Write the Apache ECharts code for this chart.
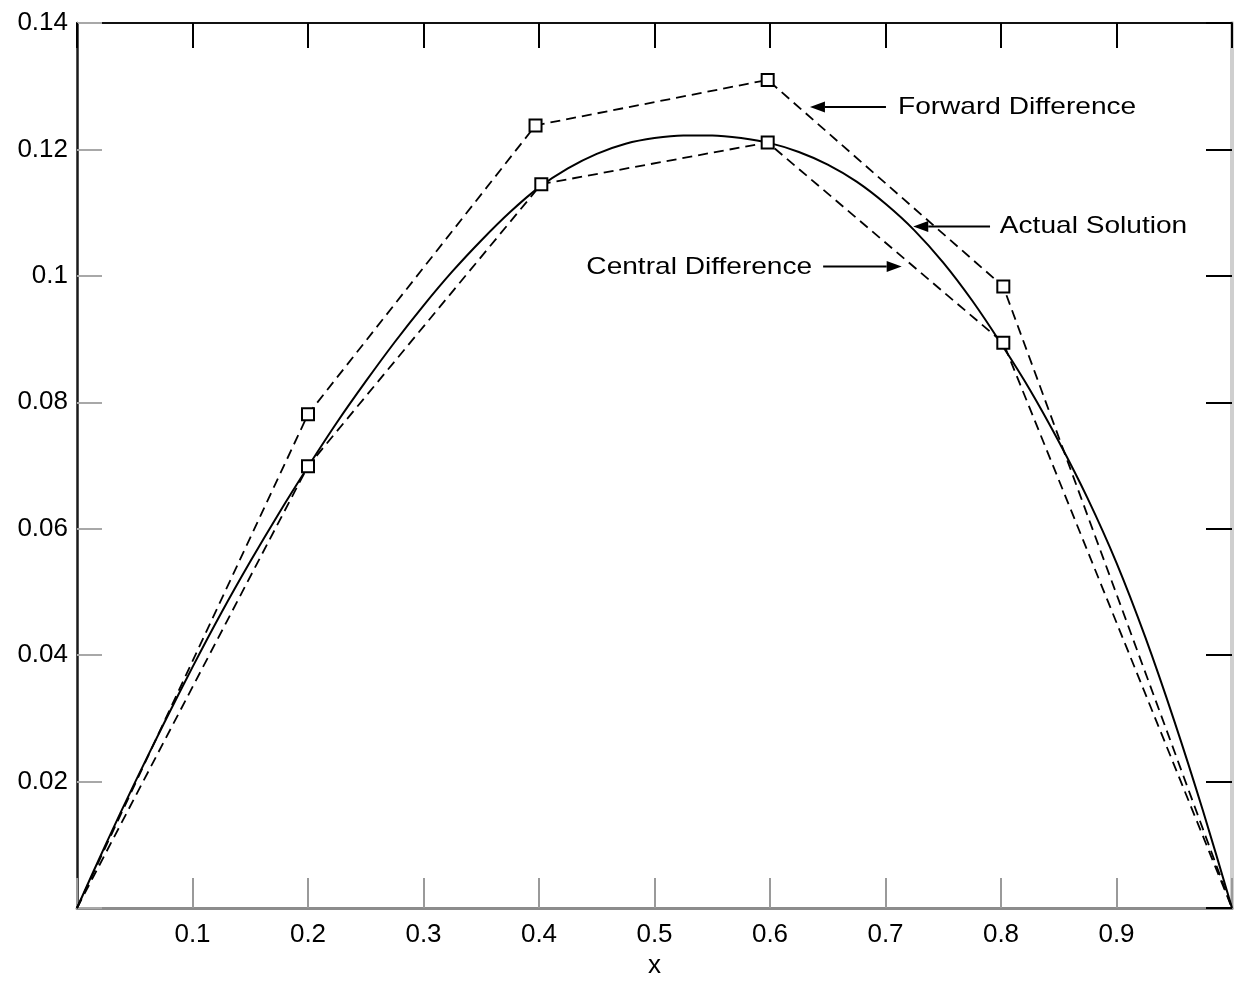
<!DOCTYPE html>
<html>
<head>
<meta charset="utf-8">
<script src="https://cdn.jsdelivr.net/npm/echarts@6.0.0/dist/echarts.min.js"></script>
<style>
html,body{margin:0;padding:0;background:#ffffff;overflow:hidden;}
#chart{width:1234px;height:981px;}
</style>
</head>
<body>
<div id="chart"></div>
<script>
// ---- data ----
const xTickLabels = ['0.1','0.2','0.3','0.4','0.5','0.6','0.7','0.8','0.9'];
const yTickLabels = ['0.02','0.04','0.06','0.08','0.1','0.12','0.14'];

const actualX = [0, 0.025, 0.05, 0.075, 0.10, 0.125, 0.15, 0.175, 0.20, 0.225, 0.25, 0.275, 0.30, 0.325, 0.35, 0.375, 0.40, 0.425, 0.45, 0.475, 0.50,
                 0.525, 0.55, 0.575, 0.60, 0.625, 0.65, 0.675, 0.70, 0.725, 0.75, 0.775, 0.80, 0.825, 0.85, 0.875, 0.90, 0.925, 0.95, 0.975, 1.0];
const actualY = [0, 0.0101, 0.0198, 0.0291, 0.0381, 0.0467, 0.0548, 0.0625, 0.0698, 0.0768, 0.0833, 0.0895, 0.0953, 0.1007, 0.1056, 0.1101, 0.1140, 0.1170, 0.1193, 0.1209, 0.1218,
                 0.1222, 0.1222, 0.1218, 0.1210, 0.1196, 0.1176, 0.1149, 0.1114, 0.1072, 0.1021, 0.0961, 0.0893, 0.0820, 0.0738, 0.0648, 0.0546, 0.0428, 0.0296, 0.0153, 0];

const forwardX = [0, 0.2, 0.397, 0.598, 0.802, 1.0];
const forwardY = [0, 0.0781, 0.1238, 0.1310, 0.0983, 0];

const centralX = [0, 0.2, 0.402, 0.598, 0.802, 1.0];
const centralY = [0, 0.0699, 0.1145, 0.1211, 0.0894, 0];

// annotation texts (positions in data coordinates)
const annoLabels = ['Forward Difference', 'Actual Solution', 'Central Difference'];
const annoTextPos = [[0.7108, 0.1266], [0.799, 0.1078], [0.441, 0.1014]];
const annoTail = [[0.7004, 0.1267], [0.7905, 0.1078], [0.646, 0.1015]];
const annoTip = [[0.6346, 0.1267], [0.724, 0.1078], [0.714, 0.1015]];

// ---- chart ----
const FONT = 'Liberation Sans, Arial, Helvetica, sans-serif';
const chart = echarts.init(document.getElementById('chart'), null, {renderer: 'canvas', width: 1234, height: 981});

function pts(xs, ys, markers) {
  return xs.map((x, i) => {
    const item = {value: [x, ys[i]]};
    if (markers && (i === 0 || i === xs.length - 1)) item.symbol = 'none';
    return item;
  });
}

const xFmt = v => {
  const k = Math.round(v * 10);
  return (k >= 1 && k <= 9) ? xTickLabels[k - 1] : '';
};
const yFmt = v => {
  const k = Math.round(v * 50);
  return (k >= 1 && k <= 7) ? yTickLabels[k - 1] : '';
};

const dashed = {color: '#000', width: 1.8, type: [10, 6]};
const squareStyle = {color: '#ffffff', borderColor: '#000', borderWidth: 2};

chart.setOption({
  animation: false,
  backgroundColor: '#ffffff',
  grid: {left: 77, right: 2, top: 23, bottom: 73, containLabel: false, outerBoundsMode: 'none'},
  xAxis: [
    {
      type: 'value', min: 0, max: 1, interval: 0.1, position: 'bottom',
      axisLine: {show: true, onZero: false, lineStyle: {color: '#8c8c8c', width: 3}},
      axisTick: {show: true, inside: true, length: 30, lineStyle: {color: '#9a9a9a', width: 2}},
      axisLabel: {formatter: xFmt, fontSize: 26, color: '#000', margin: 14, fontFamily: FONT},
      splitLine: {show: false},
      name: 'x', nameLocation: 'middle', nameGap: 45, nameMoveOverlap: false,
      nameTextStyle: {fontSize: 26, color: '#000', fontFamily: FONT}
    },
    {
      type: 'value', min: 0, max: 1, interval: 0.1, position: 'top',
      axisLine: {show: true, onZero: false, lineStyle: {color: '#111', width: 2}},
      axisTick: {show: true, inside: true, length: 25, lineStyle: {color: '#000', width: 2}},
      axisLabel: {show: false},
      splitLine: {show: false}
    }
  ],
  yAxis: [
    {
      type: 'value', min: 0, max: 0.14, interval: 0.02, position: 'left',
      axisLine: {show: true, onZero: false, lineStyle: {color: '#1a1a1a', width: 2.5}},
      axisTick: {show: true, inside: true, length: 25, lineStyle: {color: '#a8a8a8', width: 2}},
      axisLabel: {formatter: yFmt, fontSize: 26, color: '#000', margin: 9, fontFamily: FONT},
      splitLine: {show: false}
    },
    {
      type: 'value', min: 0, max: 0.14, interval: 0.02, position: 'right',
      axisLine: {show: true, onZero: false, lineStyle: {color: '#cfcfcf', width: 4}},
      axisTick: {show: true, inside: true, length: 26, lineStyle: {color: '#000', width: 2}},
      axisLabel: {show: false},
      splitLine: {show: false}
    }
  ],
  series: [
    {
      name: 'Actual Solution', type: 'line', xAxisIndex: 0, yAxisIndex: 0,
      data: pts(actualX, actualY, false),
      smooth: 0.3, showSymbol: false, symbol: 'none',
      lineStyle: {color: '#000', width: 2}, z: 3
    },
    {
      name: 'Forward Difference', type: 'line', xAxisIndex: 0, yAxisIndex: 0,
      data: pts(forwardX, forwardY, true),
      symbol: 'rect', symbolSize: 12, showAllSymbol: true,
      lineStyle: dashed, itemStyle: squareStyle, z: 4
    },
    {
      name: 'Central Difference', type: 'line', xAxisIndex: 0, yAxisIndex: 0,
      data: pts(centralX, centralY, true),
      symbol: 'rect', symbolSize: 12, showAllSymbol: true,
      lineStyle: dashed, itemStyle: squareStyle, z: 4
    }
  ]
});

// ---- annotations with arrows ----
function toPx(p) { return chart.convertToPixel({xAxisIndex: 0, yAxisIndex: 0}, p); }
const graphics = [];
annoLabels.forEach((label, i) => {
  const t = toPx(annoTextPos[i]);
  const a = toPx(annoTail[i]);
  const b = toPx(annoTip[i]);
  const dx = b[0] - a[0], dy = b[1] - a[1];
  const len = Math.sqrt(dx * dx + dy * dy);
  const ux = dx / len, uy = dy / len;
  const headL = 15, headW = 5.5;
  const base = [b[0] - ux * headL, b[1] - uy * headL];
  graphics.push({
    type: 'line', silent: true, z: 10,
    shape: {x1: a[0], y1: a[1], x2: base[0], y2: base[1]},
    style: {stroke: '#000', lineWidth: 2}
  });
  graphics.push({
    type: 'polygon', silent: true, z: 10,
    shape: {points: [b, [base[0] - uy * headW, base[1] + ux * headW], [base[0] + uy * headW, base[1] - ux * headW]]},
    style: {fill: '#000'}
  });
  graphics.push({
    type: 'text', silent: true, z: 10,
    x: t[0], y: t[1], scaleX: 1.17, scaleY: 1,
    style: {text: label, fontSize: 24, fontFamily: FONT, fill: '#000', align: 'left', verticalAlign: 'middle'}
  });
});
chart.setOption({graphic: graphics});
</script>
</body>
</html>
